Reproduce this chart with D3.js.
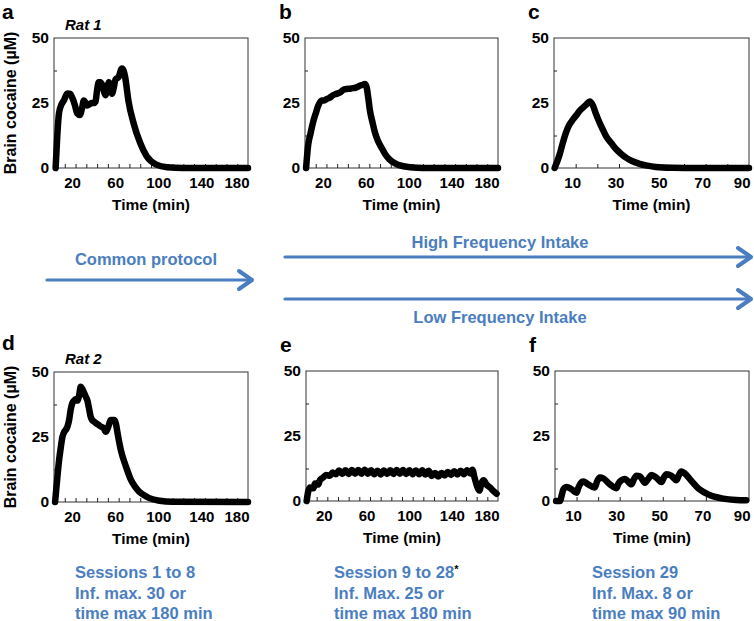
<!DOCTYPE html>
<html>
<head>
<meta charset="utf-8">
<script src="https://cdn.jsdelivr.net/npm/d3@7"></script>
<style>
  html, body { margin: 0; padding: 0; background: #fff; }
  svg { display: block; }
  text { font-family: "Liberation Sans", Arial, Helvetica, sans-serif; }
</style>
</head>
<body>
<svg id="chart" width="754" height="621"></svg>
<script>
// ---------------- DATA ----------------
// Panel a (Rat 1, common protocol)
const timeA = [1.5, 3, 4.6, 7, 9.2, 12.3, 15, 17, 19.5, 21.5, 24, 26, 27.7, 29.5, 31, 33, 35, 37, 38.5, 40, 41.5, 43, 44.6, 46, 47.7, 49.5, 50.8, 52.5, 53.8, 55.5, 57, 60, 63, 64.5, 66, 69, 74, 80, 86, 95, 105, 120, 180];
const concA = [0, 12, 21, 24.5, 26, 28.7, 28.5, 27, 24, 21, 20.4, 23, 26, 25, 24, 24.5, 25, 25, 25.5, 30, 33, 33, 32, 30, 28, 31, 33, 31, 28.6, 31, 34, 35, 38.3, 37.5, 35, 26, 17, 9.6, 4.5, 1.3, 0.3, 0, 0];
// Panel b (high frequency, rat 1)
const timeB = [1, 3, 5, 7.8, 10, 12.4, 15.5, 18, 20, 23, 26, 29, 32.6, 35.5, 38.8, 42, 45, 48, 51, 54, 55.9, 57.5, 59, 60.6, 63, 65, 68, 71.4, 75, 79, 84, 88.5, 98, 110, 180];
const concB = [0, 9, 13, 18, 21, 24, 26, 26, 26.5, 27, 28, 28.5, 29, 30, 30.4, 30.5, 30.7, 31, 31.6, 32, 32.3, 31, 27, 22, 17.5, 14, 10.5, 7.8, 5.2, 3.2, 1.8, 1, 0.3, 0, 0];
// Panel c (session 29, rat 1)
const timeC = [0.3, 2.6, 4, 5.7, 7, 8.8, 10.5, 11.8, 13.5, 15, 16.5, 18, 19.5, 21, 22.5, 24, 26.5, 28.8, 31, 33.4, 36, 39.5, 43, 47, 55, 65, 90];
const concC = [0, 5.2, 9.5, 14, 16.5, 18.7, 20.5, 22, 23.3, 24.5, 25.6, 24, 20.5, 17.5, 14.8, 12.3, 9.5, 7.1, 5.4, 3.9, 2.7, 1.6, 0.9, 0.4, 0.1, 0, 0];
// Panel d (Rat 2, common protocol)
const timeD = [1, 3, 4.7, 6.3, 7.8, 9.5, 10.9, 12.5, 14, 15.5, 17, 18.6, 20, 21.7, 23.3, 24.8, 26.3, 27.9, 29.5, 31, 32.5, 34, 35.5, 37.3, 40, 41.5, 43.5, 46, 48, 50, 52.8, 56, 57.5, 59, 62, 66.8, 71.4, 75, 79, 84, 88.5, 98, 110, 180];
const concD = [0, 9, 16, 21, 25, 27, 27.7, 29, 31.5, 35.5, 38, 39, 39.5, 39, 41, 44.3, 43.5, 42, 40.5, 39, 36, 32.8, 31.5, 30.9, 30, 29.6, 29, 28.5, 27, 28.5, 31.5, 31.5, 30, 26.4, 20, 13.6, 8.5, 6, 4, 2.5, 1.5, 0.5, 0.1, 0];
// Panel e (low frequency, rat 2)
const timeE = [0.6, 2.2, 3.8, 6.9, 8.4, 11.6, 13, 16, 18.8, 22.5,
  25, 28, 31, 34, 37, 40, 43, 46, 49, 52, 55, 58, 61, 64, 67, 70, 73, 76, 79, 82, 85, 88, 91, 94, 97, 100,
  103, 106, 109, 112, 115, 118, 121, 124, 127, 130, 133, 136, 139, 142, 145, 148, 151, 154,
  156, 158, 160.5, 162.5, 164.7, 166.5, 169, 172.5, 175.6, 178.7];
const concE = [0, 3.9, 5.2, 4.9, 6.7, 6.3, 8, 9, 10, 9.7,
  11, 10.3, 11.7, 10.4, 11.8, 10.4, 11.9, 10.5, 11.9, 10.5, 12, 10.5, 11.8, 10.3, 11.6, 10.2, 11.7, 10.4, 11.8, 10.4,
  11.9, 10.5, 11.9, 10.4, 11.8, 10.3, 11.7, 10.3, 11.8, 10.2, 11.6, 9.6, 10.8, 9.4, 10.8, 9.8, 11.2, 10, 11.4, 10.2,
  11.6, 10.3, 11.8, 10.6,
  12, 9, 5.5, 4, 7.1, 8, 6.4, 5.2, 3.9, 2.8];
// Panel f (session 29, rat 2)
const timeF = [0.5, 2.3, 3.2, 3.9, 5.4, 7.7, 10, 10.8, 11.6, 13.1, 15.4, 18.5, 19.5, 20.8, 22.4, 25.5, 28.5, 29.5, 30.9, 32.4, 35.5, 36.5, 37.8, 39.4, 41.7, 43.5, 44.8, 47, 49.4, 50.5, 51.7, 54, 56.3, 57.5, 58.6, 60.2, 63.3, 67, 71.7, 78, 84, 88.7];
const concF = [0, 0, 2.5, 4.5, 5.4, 4.5, 3.2, 5, 6.4, 7.5, 6.4, 5.2, 7.5, 9, 8.7, 6.4, 4.9, 6.8, 8, 8.5, 6.4, 8.2, 9.7, 9.5, 7, 8.8, 10, 9, 7.3, 9, 10.3, 9.7, 8, 10, 11.3, 10.6, 7.7, 4.5, 2.3, 0.9, 0.4, 0.3];

// Tick labels
const xTicks180 = [20, 60, 100, 140, 180];
const xTicks90 = [10, 30, 50, 70, 90];
const yTicks = [0, 25, 50];
const yMinorTicks = [12.5, 37.5];

// Text
const yTitle = "Brain cocaine (\u00b5M)";
const xTitle = "Time (min)";
const protocolLabels = ["Common protocol", "High Frequency Intake", "Low Frequency Intake"];
const sessionNotes = [
  ["Sessions 1 to 8", "Inf. max. 30 or", "time max 180 min"],
  ["Session 9 to 28", "Inf. Max. 25 or", "time max 180 min"],
  ["Session 29", "Inf. Max. 8 or", "time max 90 min"]
];

// ---------------- LAYOUT ----------------
const BLUE = "#4a7ec0";
const svg = d3.select("#chart");

const panels = [
  {letter: "a", rat: "Rat 1", t: timeA, c: concA, xMax: 180, labels: xTicks180, x0: 54, x1: 248, y0: 38, y1: 168, yTitle: true},
  {letter: "b", rat: null, t: timeB, c: concB, xMax: 180, labels: xTicks180, x0: 305, x1: 498, y0: 38, y1: 168},
  {letter: "c", rat: null, t: timeC, c: concC, xMax: 90, labels: xTicks90, x0: 554, x1: 749, y0: 38, y1: 168},
  {letter: "d", rat: "Rat 2", t: timeD, c: concD, xMax: 180, labels: xTicks180, x0: 54, x1: 248, y0: 372, y1: 502, yTitle: true},
  {letter: "e", rat: null, t: timeE, c: concE, xMax: 180, labels: xTicks180, x0: 306, x1: 498, y0: 371, y1: 501},
  {letter: "f", rat: null, t: timeF, c: concF, xMax: 90, labels: xTicks90, x0: 555, x1: 749, y0: 371, y1: 501}
];

panels.forEach(p => {
  const x = d3.scaleLinear().domain([0, p.xMax]).range([p.x0, p.x1]);
  const y = d3.scaleLinear().domain([0, 50]).range([p.y1, p.y0]);
  const g = svg.append("g");

  // frame
  g.append("rect")
    .attr("x", p.x0).attr("y", p.y0)
    .attr("width", p.x1 - p.x0).attr("height", p.y1 - p.y0)
    .attr("fill", "none").attr("stroke", "#333").attr("stroke-width", 1);

  // minor x ticks (every 10 min, inward)
  const minor = d3.range(10, p.xMax, 10);
  g.append("g").attr("transform", `translate(0,${p.y1})`)
    .call(d3.axisBottom(x).tickValues(minor).tickSize(-4).tickFormat(""))
    .call(s => s.select(".domain").remove())
    .call(s => s.selectAll("line").attr("stroke", "#222"));

  // labeled x ticks
  const lastLabel = p.labels[p.labels.length - 1];
  g.append("g").attr("transform", `translate(0,${p.y1})`)
    .call(d3.axisBottom(x).tickValues(p.labels).tickSize(0).tickPadding(9))
    .call(s => s.select(".domain").remove())
    .call(s => s.selectAll("text")
      .attr("font-family", "Liberation Sans, Arial, sans-serif")
      .attr("font-size", 15).attr("font-weight", "bold").attr("fill", "#000")
      .attr("x", -3.5))
    .call(s => s.selectAll(".tick").filter(d => d === lastLabel).select("text")
      .attr("text-anchor", "end").attr("x", 1));

  // y ticks
  g.append("g").attr("transform", `translate(${p.x0},0)`)
    .call(d3.axisLeft(y).tickValues(yTicks).tickSize(0).tickPadding(5))
    .call(s => s.select(".domain").remove())
    .call(s => s.selectAll("text")
      .attr("font-family", "Liberation Sans, Arial, sans-serif")
      .attr("font-size", 15.5).attr("font-weight", "bold").attr("fill", "#000"));
  g.append("g").attr("transform", `translate(${p.x0},0)`)
    .call(d3.axisLeft(y).tickValues(yMinorTicks).tickSize(-3).tickFormat(""))
    .call(s => s.select(".domain").remove())
    .call(s => s.selectAll("line").attr("stroke", "#222"));

  // x title
  g.append("text")
    .attr("x", (p.x0 + p.x1) / 2).attr("y", p.y1 + 42)
    .attr("text-anchor", "middle")
    .attr("font-size", 15.5).attr("font-weight", "bold")
    .text(xTitle);

  // y title
  if (p.yTitle) {
    g.append("text")
      .attr("transform", `translate(16,${(p.y0 + p.y1) / 2}) rotate(-90)`)
      .attr("text-anchor", "middle")
      .attr("font-size", 16).attr("font-weight", "bold")
      .text(yTitle);
  }

  // panel letter
  const letterX = p.x0 < 100 ? 2 : p.x0 - 26;
  g.append("text")
    .attr("x", letterX).attr("y", p.y0 - (p.letter === "d" ? 22 : 19))
    .attr("font-size", 21).attr("font-weight", "bold")
    .text(p.letter);

  if (p.rat) {
    g.append("text")
      .attr("x", p.x0 + 11).attr("y", p.y0 - 8)
      .attr("font-size", 15).attr("font-weight", "bold").attr("font-style", "italic")
      .text(p.rat);
  }

  // curve
  const pts = p.t.map((tv, i) => [tv, p.c[i]]);
  g.append("path")
    .datum(pts)
    .attr("fill", "none").attr("stroke", "#000")
    .attr("stroke-width", 6.5)
    .attr("stroke-linejoin", "round").attr("stroke-linecap", "round")
    .attr("d", d3.line().x(d => x(d[0])).y(d => y(d[1])).curve(d3.curveMonotoneX));
});

// ---------------- ARROWS ----------------
const arrows = [
  {x0: 47, x1: 252, y: 280, label: protocolLabels[0], ly: 265, lx: 146},
  {x0: 285, x1: 751, y: 257, label: protocolLabels[1], ly: 248, lx: 500},
  {x0: 285, x1: 751, y: 299, label: protocolLabels[2], ly: 323, lx: 500}
];
arrows.forEach(a => {
  const ag = svg.append("g").attr("stroke", BLUE).attr("fill", "none").attr("stroke-linecap", "round").attr("stroke-linejoin", "round");
  ag.append("line").attr("x1", a.x0).attr("x2", a.x1 - 1).attr("y1", a.y).attr("y2", a.y).attr("stroke-width", 3.2);
  ag.append("path")
    .attr("d", `M${a.x1 - 13},${a.y - 9} L${a.x1},${a.y} L${a.x1 - 13},${a.y + 9}`)
    .attr("stroke-width", 4);
  svg.append("text")
    .attr("x", a.lx).attr("y", a.ly)
    .attr("text-anchor", "middle")
    .attr("font-size", 16.5).attr("font-weight", "bold").attr("fill", BLUE)
    .text(a.label);
});

// ---------------- SESSION NOTES ----------------
const noteX = [75, 334, 592];
const noteY = [578, 598.5, 619];
sessionNotes.forEach((lines, i) => {
  lines.forEach((ln, j) => {
    const t = svg.append("text")
      .attr("x", noteX[i]).attr("y", noteY[j])
      .attr("font-size", 16.5).attr("font-weight", "bold").attr("fill", BLUE)
      .text(ln);
    if (i === 1 && j === 0) {
      t.append("tspan").attr("fill", "#000").attr("font-size", 11).attr("dy", -5).text("*");
    }
  });
});
</script>
</body>
</html>
